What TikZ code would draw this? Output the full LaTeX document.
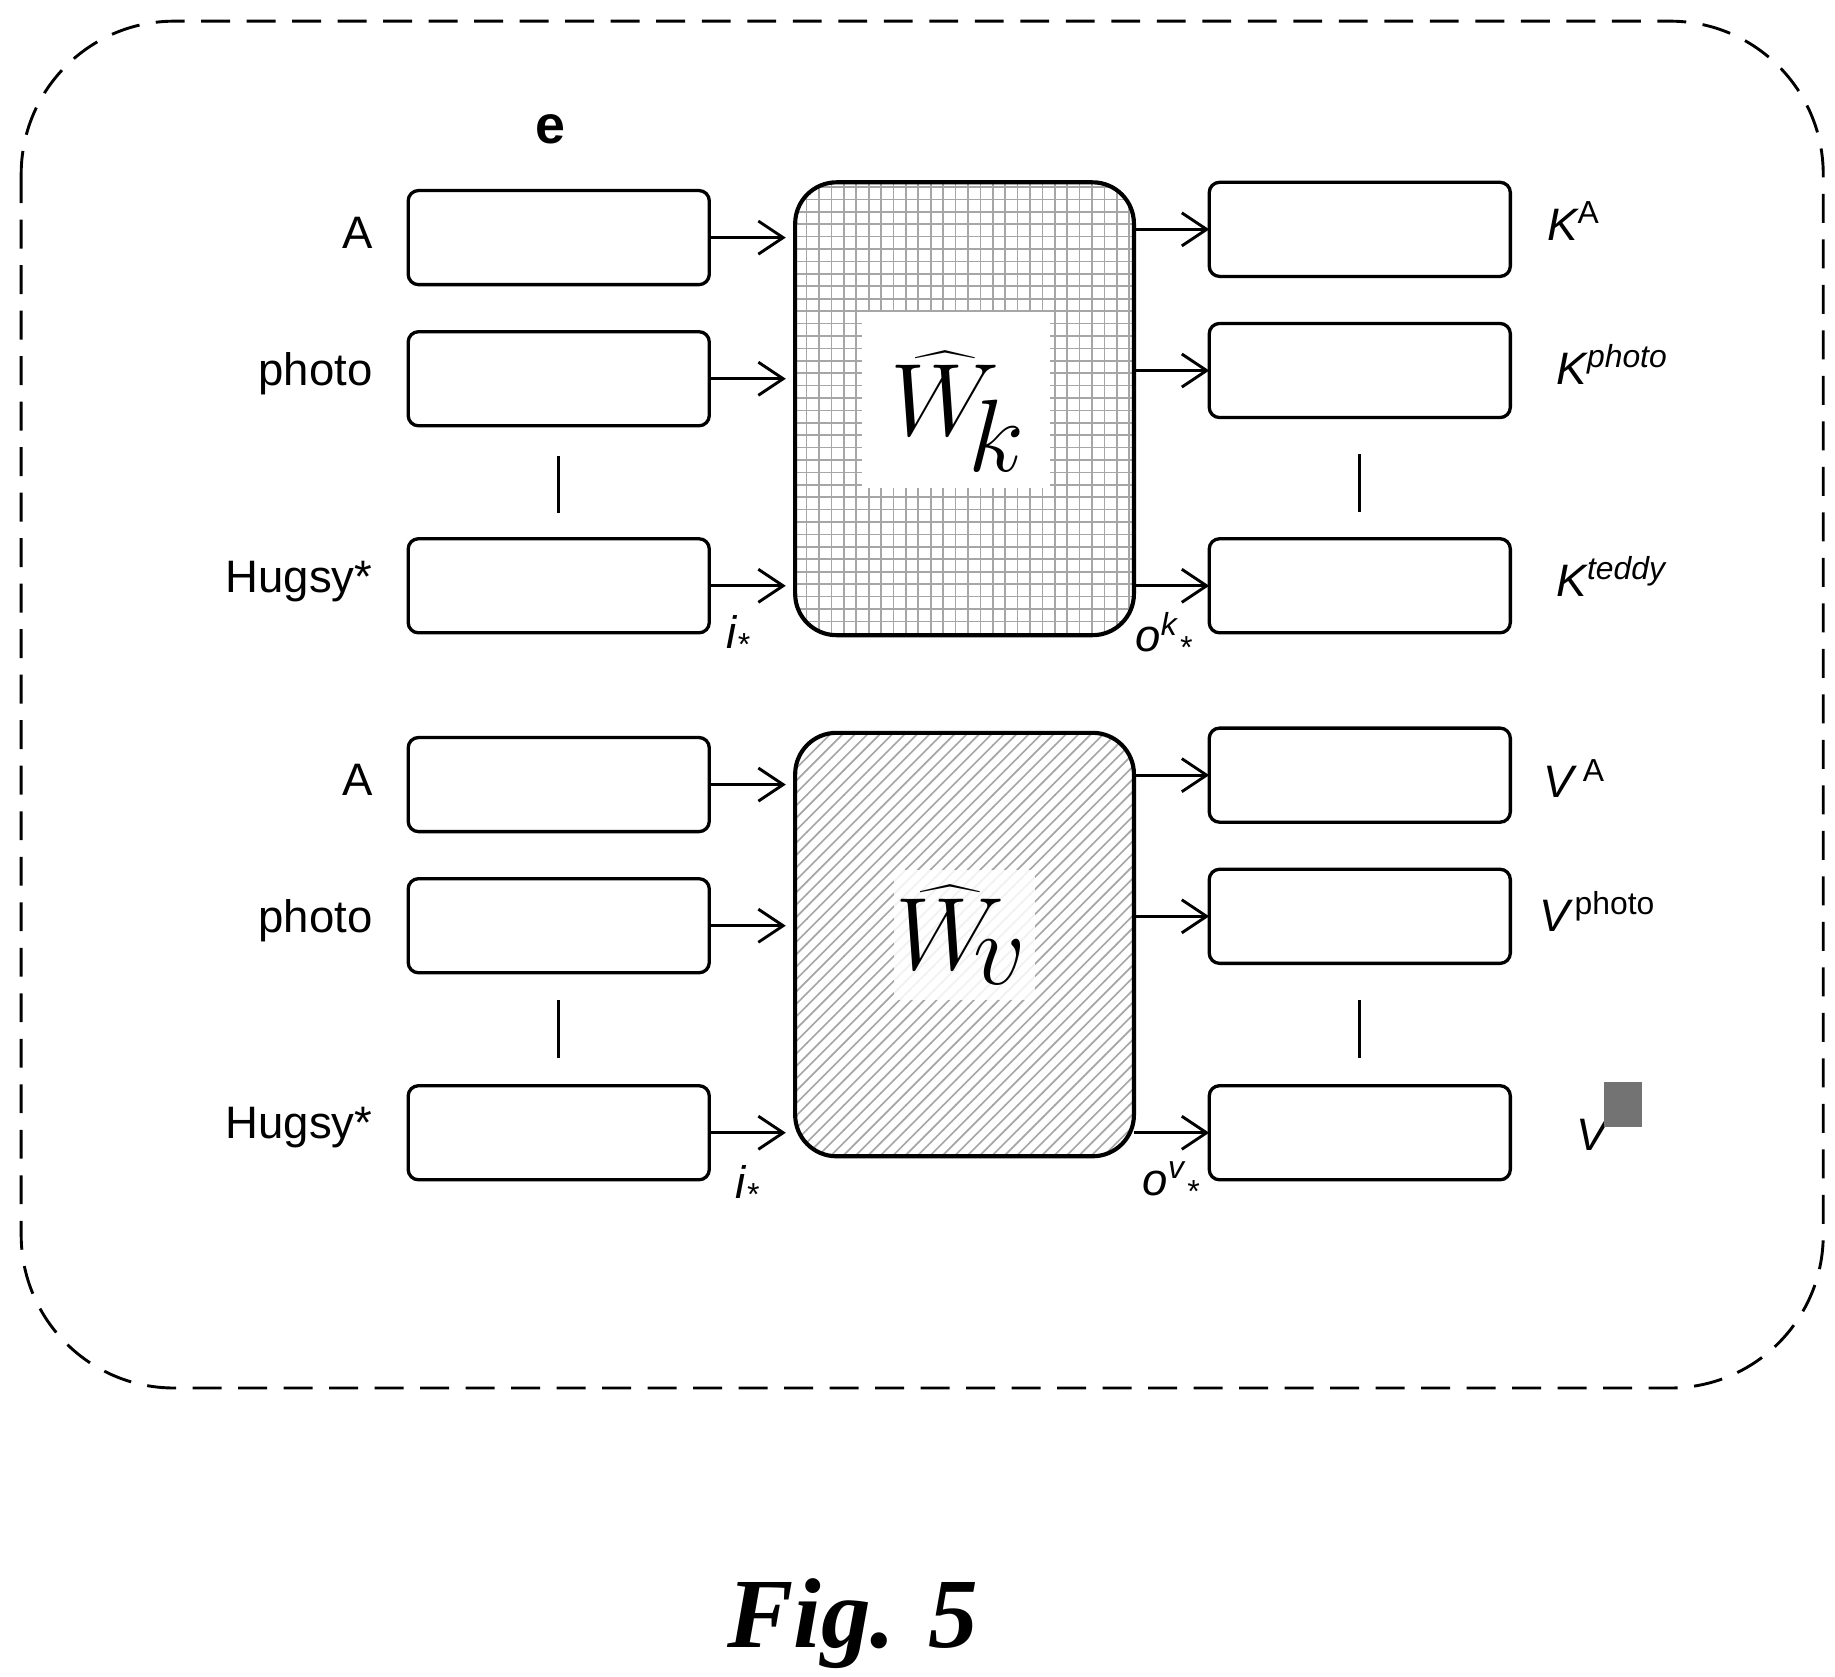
\documentclass[tikz,border=0pt]{standalone}
\usepackage{fontspec}
\setmainfont{Liberation Sans}
\newfontfamily\serifb{Liberation Serif}
\usetikzlibrary{patterns,arrows.meta}
\begin{document}
\begin{tikzpicture}[x=0.01cm,y=-0.01cm,
  box/.style={draw,line width=0.8pt,rounded corners=2.5pt},
  arr/.style={-{Straight Barb[length=6pt,width=8pt]},line width=0.7pt},
  lbl/.style={font=\fontsize{11}{13}\selectfont},
  ital/.style={font=\fontsize{11}{13}\selectfont\itshape},
  vd/.style={dash pattern=on 14pt off 8pt,line width=0.7pt}]
\useasboundingbox (0,0) rectangle (1560,1425);
\draw[dash pattern=on 7pt off 4pt,line width=0.7pt,rounded corners=37pt] (18,18) rectangle (1550,1180);
\node[font=\fontsize{13}{15}\selectfont\bfseries] (e) at (468,110) {e};
% left boxes
\foreach \n/\y/\t in {l1/202/A,l2/322/photo,l3/498/Hugsy*,l4/667/A,l5/787/photo,l6/963/Hugsy*}{
  \draw[box] (347,\y-40) rectangle (603,\y+40);
  \coordinate (\n-r) at (603,\y);
  \coordinate (\n-a) at (668,\y);
  \draw[arr] (\n-r) -- (\n-a);
  \node[lbl,anchor=east] (\n-t) at (329,\y-4) {\t};
}
\draw[vd] (475,388) -- (475,436);
\draw[vd] (475,850) -- (475,900);
% matrices
\path[pattern=grid,pattern color=black!35,rounded corners=10pt] (676,155) rectangle (964,540);
\draw[line width=1pt,rounded corners=10pt] (676,155) rectangle (964,540);
\fill[white] (733,265) rectangle (893,415);
\node (wk) at (815,350) {\fontsize{40}{42}\selectfont$\widehat{W}_{\!k}$};
\path[pattern=north east lines,pattern color=black!35,rounded corners=10pt] (676,623) rectangle (964,983);
\draw[line width=1pt,rounded corners=10pt] (676,623) rectangle (964,983);
\fill[white,opacity=0.85] (760,740) rectangle (880,850);
\node (wv) at (818,795) {\fontsize{40}{42}\selectfont$\widehat{W}_{\!v}$};
% right boxes
\foreach \n/\y in {r1/195,r2/315,r3/498,r4/659,r5/779,r6/963}{
  \draw[box] (1028,\y-40) rectangle (1284,\y+40);
  \coordinate (\n-l) at (1028,\y);
  \coordinate (\n-s) at (964,\y);
  \draw[arr] (\n-s) -- (\n-l);
}
\draw[vd] (1156,386) -- (1156,436);
\draw[vd] (1156,850) -- (1156,900);
\node[ital,anchor=west] (ka) at (1303,188) {K\textsuperscript{\upshape A}};
\node[ital,anchor=west] (kp) at (1311,310) {K\textsuperscript{photo}};
\node[ital,anchor=west] (kt) at (1311,490) {K\textsuperscript{teddy}};
\node[ital,anchor=west] (va) at (1300,662) {V\textsuperscript{\upshape\ A}};
\node[ital,anchor=west] (vp) at (1296,775) {V\textsuperscript{\upshape\,photo}};
\node[ital,anchor=west] (vt) at (1328,965) {V};
\fill[black!55] (1364,920) rectangle (1396,958);
\node[ital] (i1) at (628,540) {i\textsubscript{*}};
\node[ital] (o1) at (990,540) {o\textsuperscript{k}\textsubscript{*}};
\node[ital] (i2) at (636,1008) {i\textsubscript{*}};
\node[ital] (o2) at (996,1005) {o\textsuperscript{v}\textsubscript{*}};
\node[font=\fontsize{24}{26}\selectfont\serifb\bfseries\itshape] (fig) at (725,1380) {Fig. 5};
\end{tikzpicture}
\end{document}
